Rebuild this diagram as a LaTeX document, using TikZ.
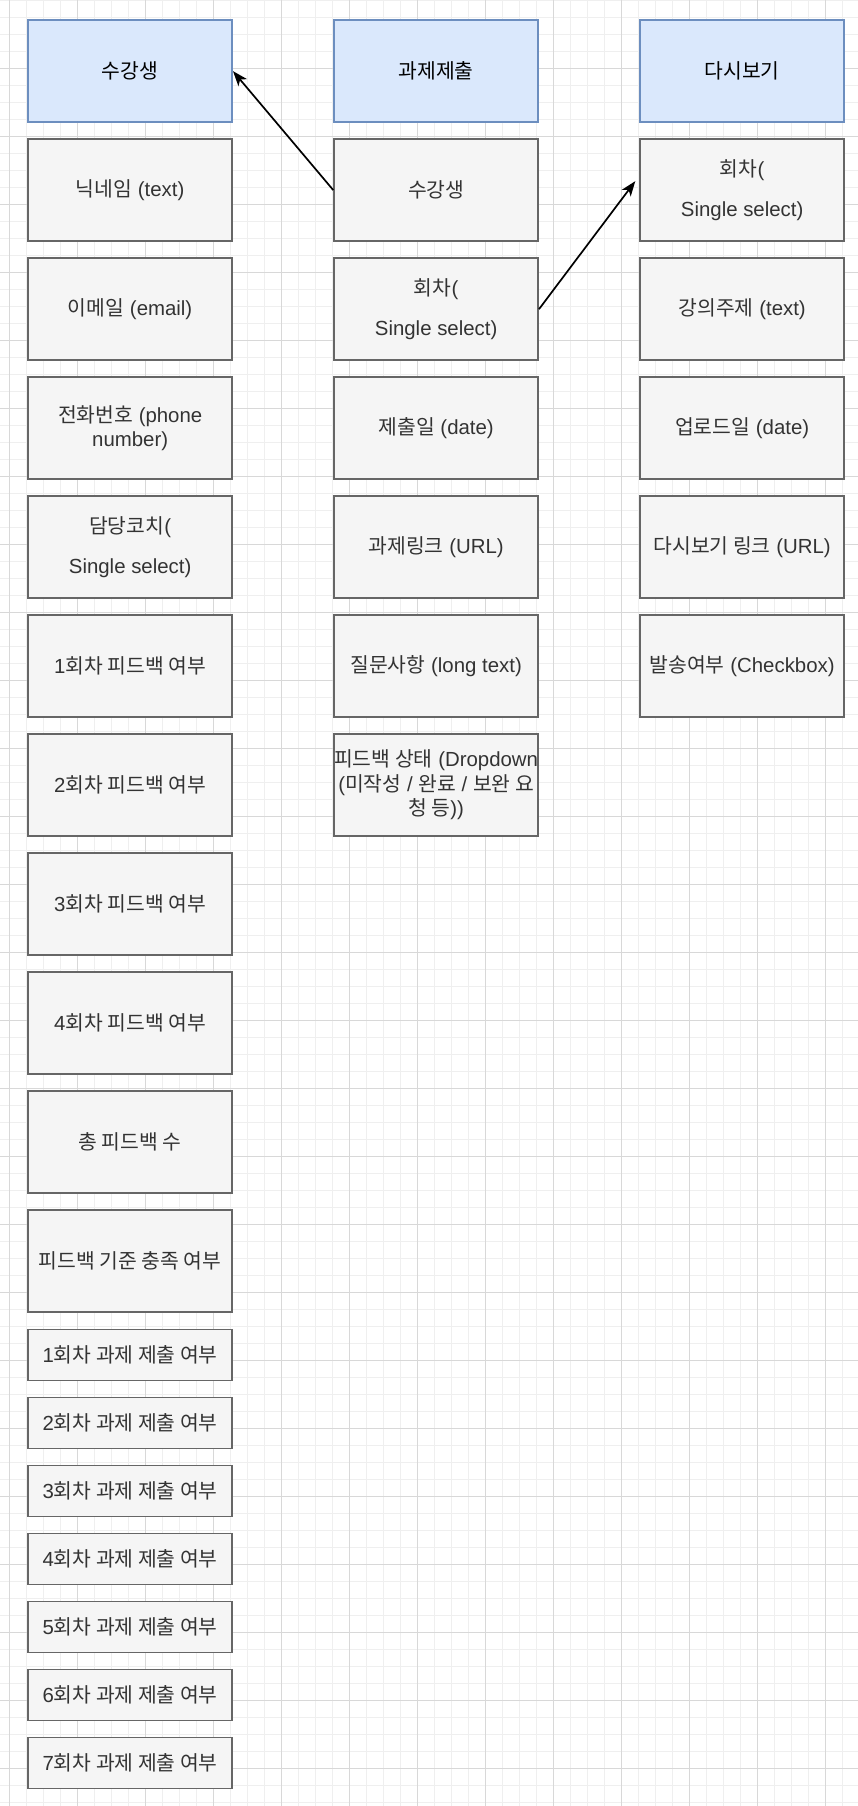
\documentclass[tikz,border=0pt]{standalone}
\usepackage{fontspec}
\setmainfont{Liberation Sans}
\newfontfamily\krf{Noto Sans CJK KR}
\newcommand\kr[1]{{\krf #1}}
\usetikzlibrary{arrows.meta}
\definecolor{hdrfill}{HTML}{DAE8FC}
\definecolor{hdrline}{HTML}{6C8EBF}
\definecolor{fldfill}{HTML}{F5F5F5}
\definecolor{fldline}{HTML}{666666}
\definecolor{fldtext}{HTML}{333333}
\definecolor{gridminor}{HTML}{EFEFEF}
\definecolor{gridmajor}{HTML}{D8D8D8}
\newcommand\fs{\fontsize{20.4}{24.5}\selectfont}
\tikzset{
  hdr/.style={draw=hdrline, fill=hdrfill, line width=1.7pt, minimum width=204pt,
    minimum height=102pt, anchor=north west, align=center, inner sep=0pt,
    font=\fs, text=black},
  fld/.style={hdr, draw=fldline, fill=fldfill, text=fldtext},
  sfld/.style={fld, minimum height=51pt},
  conn/.style={line width=1.7pt, draw=black, -{Stealth[length=15pt,width=11pt,inset=4pt]}},
  gmin/.style={draw=gridminor, line width=1pt},
  gmaj/.style={draw=gridmajor, line width=1pt}
}
\begin{document}
\begin{tikzpicture}[x=1pt,y=-1pt]
\useasboundingbox (0,0) rectangle (858,1806);
\fill[white] (0,0) rectangle (858,1806);
% grid
\foreach \k in {0,...,50} \draw[gmin] (9.3+17*\k,0) -- (9.3+17*\k,1806);
\foreach \k in {0,...,106} \draw[gmin] (0,0.3+17*\k) -- (858,0.3+17*\k);
\foreach \k in {0,...,12} \draw[gmaj] (9.3+68*\k,0) -- (9.3+68*\k,1806);
\foreach \k in {1,...,26} \draw[gmaj] (0,0.3+68*\k) -- (858,0.3+68*\k);
% column 1
\node[hdr] (c1h) at (27.3,19.3) {\kr{수강생}};
\node[fld] (c1r1) at (27.3,138.3) {\kr{닉네임} (text)};
\node[fld] (c1r2) at (27.3,257.3) {\kr{이메일} (email)};
\node[fld] (c1r3) at (27.3,376.3) {\kr{전화번호} (phone\\number)};
\node[fld] (c1r4) at (27.3,495.3) {\kr{담당코치}(\\[15pt]Single select)};
\node[fld] (c1r5) at (27.3,614.3) {1\kr{회차 피드백 여부}};
\node[fld] (c1r6) at (27.3,733.3) {2\kr{회차 피드백 여부}};
\node[fld] (c1r7) at (27.3,852.3) {3\kr{회차 피드백 여부}};
\node[fld] (c1r8) at (27.3,971.3) {4\kr{회차 피드백 여부}};
\node[fld] (c1r9) at (27.3,1090.3) {\kr{총 피드백 수}};
\node[fld] (c1r10) at (27.3,1209.3) {\kr{피드백 기준 충족 여부}};
\node[sfld] (c1s1) at (27.3,1328.7) {1\kr{회차 과제 제출 여부}};
\node[sfld] (c1s2) at (27.3,1396.7) {2\kr{회차 과제 제출 여부}};
\node[sfld] (c1s3) at (27.3,1464.7) {3\kr{회차 과제 제출 여부}};
\node[sfld] (c1s4) at (27.3,1532.7) {4\kr{회차 과제 제출 여부}};
\node[sfld] (c1s5) at (27.3,1600.7) {5\kr{회차 과제 제출 여부}};
\node[sfld] (c1s6) at (27.3,1668.7) {6\kr{회차 과제 제출 여부}};
\node[sfld] (c1s7) at (27.3,1736.7) {7\kr{회차 과제 제출 여부}};
% column 2
\node[hdr] (c2h) at (333.3,19.3) {\kr{과제제출}};
\node[fld] (c2r1) at (333.3,138.3) {\kr{수강생}};
\node[fld] (c2r2) at (333.3,257.3) {\kr{회차}(\\[15pt]Single select)};
\node[fld] (c2r3) at (333.3,376.3) {\kr{제출일} (date)};
\node[fld] (c2r4) at (333.3,495.3) {\kr{과제링크} (URL)};
\node[fld] (c2r5) at (333.3,614.3) {\kr{질문사항} (long text)};
\node[fld] (c2r6) at (333.3,733.3) {\kr{피드백 상태} (Dropdown\\(\kr{미작성} / \kr{완료} / \kr{보완 요}\\\kr{청 등}))};
% column 3
\node[hdr] (c3h) at (639.3,19.3) {\kr{다시보기}};
\node[fld] (c3r1) at (639.3,138.3) {\kr{회차}(\\[15pt]Single select)};
\node[fld] (c3r2) at (639.3,257.3) {\kr{강의주제} (text)};
\node[fld] (c3r3) at (639.3,376.3) {\kr{업로드일} (date)};
\node[fld] (c3r4) at (639.3,495.3) {\kr{다시보기 링크} (URL)};
\node[fld] (c3r5) at (639.3,614.3) {\kr{발송여부} (Checkbox)};
% connectors
\draw[conn] (c2r1.west) -- (c1h.east);
\draw[conn] (c2r2.east) -- ([xshift=-4pt,yshift=9pt]c3r1.west);
\end{tikzpicture}
\end{document}
